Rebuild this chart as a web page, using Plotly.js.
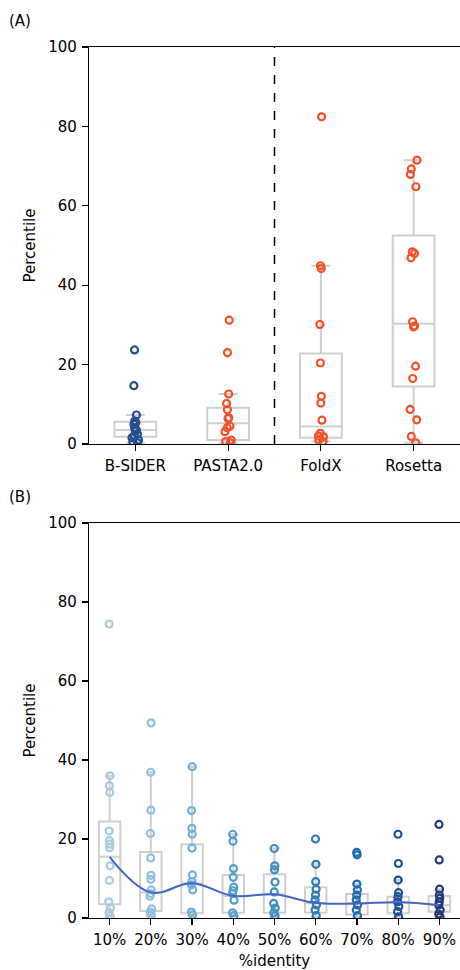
<!DOCTYPE html>
<html>
<head>
<meta charset="utf-8">
<script src="https://cdn.plot.ly/plotly-3.0.1.min.js"></script>
<style>html,body{margin:0;padding:0;background:#fff;}#chart{width:460px;height:970px;}</style>
</head>
<body>
<div id="chart"></div>
<script>
// ---------- Panel A data ----------
const methods = ['B-SIDER', 'PASTA2.0', 'FoldX', 'Rosetta'];
const bsider  = [23.7, 14.7, 7.3, 5.8, 5.4, 5.0, 4.1, 3.5, 3.3, 2.5, 2.0, 1.6, 1.0, 0.5, 0.3];
const pasta   = [31.2, 23.0, 12.6, 10.2, 8.6, 6.6, 6.4, 4.5, 4.1, 3.1, 1.0, 0.6, 0.3];
const foldx   = [82.4, 44.9, 44.2, 30.1, 20.4, 12.0, 10.3, 6.0, 2.7, 2.0, 1.8, 1.0, 0.6];
const rosetta = [71.5, 69.3, 67.9, 64.8, 48.4, 48.0, 46.9, 30.8, 29.7, 29.5, 19.6, 16.5, 8.7, 6.1, 1.9, 0.3];
const methodColors = ['#234f8f', '#f1522a', '#f1522a', '#f1522a'];
const aQ1     = [1.8, 1.0, 1.6, 14.5];
const aMedian = [3.5, 5.2, 4.4, 30.3];
const aQ3     = [5.6, 9.1, 22.8, 52.5];
const aUpper  = [7.3, 12.6, 44.9, 71.5];
const aLower  = [0.3, 0.3, 0.6, 0.3];
const separatorAt = 1.5;

// ---------- Panel B data ----------
const identities = ['10%', '20%', '30%', '40%', '50%', '60%', '70%', '80%', '90%'];
const id10 = [74.4, 36.0, 33.5, 31.8, 22.0, 19.6, 18.7, 17.8, 13.2, 9.5, 4.1, 2.5, 1.3, 0.5];
const id20 = [49.4, 36.9, 27.3, 21.4, 15.2, 10.8, 9.8, 7.1, 6.2, 5.5, 2.3, 1.5, 0.8];
const id30 = [38.3, 27.2, 22.7, 21.2, 17.7, 10.9, 9.2, 8.4, 7.1, 1.5, 0.8];
const id40 = [21.2, 19.4, 12.5, 10.3, 7.8, 6.9, 6.2, 4.5, 1.3, 0.6];
const id50 = [17.6, 13.2, 12.2, 9.1, 6.6, 3.7, 2.5, 1.3, 0.5];
const id60 = [20.0, 13.6, 9.2, 7.3, 5.8, 4.6, 3.3, 2.0, 0.6];
const id70 = [16.6, 16.0, 8.6, 7.1, 5.8, 4.6, 3.3, 2.0, 0.6];
const id80 = [21.2, 13.8, 9.6, 6.4, 5.4, 4.1, 2.9, 1.6, 0.3];
const id90 = [23.7, 14.7, 7.3, 5.8, 5.0, 4.1, 3.3, 2.0, 1.0, 0.3];
const identityColors = ['#a8cbe3', '#8fc1de', '#72b1d7', '#56a0ce', '#3f8ec4', '#2d7dbb', '#1f6bb0', '#1f529a', '#253a7c'];
const bQ1     = [3.5, 1.8, 1.2, 1.3, 1.3, 1.3, 0.9, 1.2, 1.6];
const bMedian = [15.5, 6.5, 8.8, 5.6, 6.0, 3.8, 3.7, 4.0, 3.3];
const bQ3     = [24.4, 16.7, 18.7, 10.9, 11.1, 7.8, 6.1, 5.4, 5.6];
const bUpper  = [36.0, 36.9, 38.3, 21.2, 17.6, 13.6, 8.6, 9.6, 7.3];
const bLower  = [0.3, 0.5, 0.5, 0.5, 0.3, 0.3, 0.3, 0.3, 0.3];
const trendColor = '#4466c2';

const FONT = 'DejaVu Sans, sans-serif';
const boxLine = '#cfcfcf';

function statBox(cats, q1, med, q3, lo, hi, xa, ya, w) {
  return {
    type: 'box', x: cats, q1: q1, median: med, q3: q3, lowerfence: lo, upperfence: hi,
    xaxis: xa, yaxis: ya, width: w, whiskerwidth: 0.45,
    fillcolor: 'rgba(0,0,0,0)', line: {color: boxLine, width: 2},
    boxpoints: false, hoverinfo: 'skip', showlegend: false
  };
}
function pointsBox(cat, vals, color, xa, ya, w, jit) {
  return {
    type: 'box', x: vals.map(() => cat), y: vals, xaxis: xa, yaxis: ya, width: w,
    boxpoints: 'all', jitter: jit, pointpos: 0,
    fillcolor: 'rgba(0,0,0,0)', line: {color: 'rgba(0,0,0,0)', width: 0},
    marker: {symbol: 'circle-open', size: 7, color: color, line: {color: color, width: 2.2}},
    hoverinfo: 'skip', showlegend: false
  };
}

const traces = [];
traces.push(statBox(methods, aQ1, aMedian, aQ3, aLower, aUpper, 'x', 'y', 0.45));
[bsider, pasta, foldx, rosetta].forEach((v, i) => traces.push(pointsBox(methods[i], v, methodColors[i], 'x', 'y', 0.45, 0.2)));

traces.push(statBox(identities, bQ1, bMedian, bQ3, bLower, bUpper, 'x2', 'y2', 0.52));
traces.push({
  type: 'scatter', mode: 'lines', x: identities, y: bMedian, xaxis: 'x2', yaxis: 'y2',
  line: {color: trendColor, width: 2, shape: 'spline', smoothing: 1.1},
  hoverinfo: 'skip', showlegend: false
});
[id10, id20, id30, id40, id50, id60, id70, id80, id90].forEach((v, i) =>
  traces.push(pointsBox(identities[i], v, identityColors[i], 'x2', 'y2', 0.52, 0.1)));

const axisCommon = {
  showline: true, linecolor: '#000', linewidth: 1.2, mirror: true,
  ticks: 'outside', ticklen: 6, tickwidth: 1.2, tickcolor: '#000', ticklabelstandoff: 2,
  showgrid: false, zeroline: false,
  tickfont: {family: FONT, size: 15, color: '#000'}
};

const layout = {
  width: 460, height: 970,
  margin: {l: 89, r: 0, t: 47, b: 52},
  paper_bgcolor: '#fff', plot_bgcolor: '#fff',
  font: {family: FONT, color: '#000'},
  boxmode: 'overlay', showlegend: false,
  xaxis: Object.assign({}, axisCommon, {
    domain: [0, 1], anchor: 'y', type: 'category', categoryarray: methods, range: [-0.5, 3.5]
  }),
  yaxis: Object.assign({}, axisCommon, {
    domain: [0.5442, 1], anchor: 'x', range: [0, 100], tickvals: [0, 20, 40, 60, 80, 100],
    title: {text: 'Percentile', font: {family: FONT, size: 15}, standoff: 9}
  }),
  xaxis2: Object.assign({}, axisCommon, {
    domain: [0, 1], anchor: 'y2', type: 'category', categoryarray: identities, range: [-0.5, 8.5],
    title: {text: '%identity', font: {family: FONT, size: 15}, standoff: 8}
  }),
  yaxis2: Object.assign({}, axisCommon, {
    domain: [0, 0.4535], anchor: 'x2', range: [0, 100], tickvals: [0, 20, 40, 60, 80, 100],
    title: {text: 'Percentile', font: {family: FONT, size: 15}, standoff: 9}
  }),
  shapes: [{
    type: 'line', xref: 'x', yref: 'y domain', x0: separatorAt, x1: separatorAt, y0: 0, y1: 1,
    line: {color: '#000', width: 1.5, dash: 'dash'}
  }],
  annotations: [
    {text: '(A)', xref: 'paper', yref: 'paper', x: -0.22, y: 1.0, xanchor: 'left', yanchor: 'bottom',
     yshift: 15, showarrow: false, font: {family: FONT, size: 15}},
    {text: '(B)', xref: 'paper', yref: 'paper', x: -0.22, y: 0.4535, xanchor: 'left', yanchor: 'bottom',
     yshift: 15, showarrow: false, font: {family: FONT, size: 15}}
  ]
};

Plotly.newPlot('chart', traces, layout, {staticPlot: true, displayModeBar: false});
</script>
</body>
</html>
